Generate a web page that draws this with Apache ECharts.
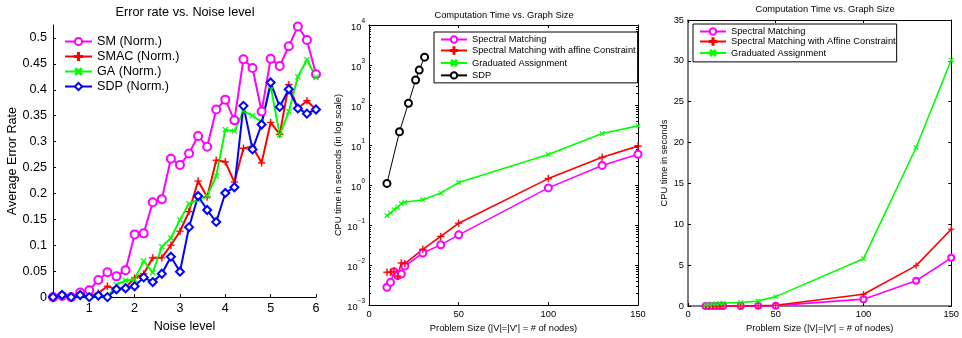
<!DOCTYPE html>
<html><head><meta charset="utf-8">
<script src="https://cdn.jsdelivr.net/npm/echarts@6/dist/echarts.min.js"></script>
<style>html,body{margin:0;padding:0;background:#fff}#c{width:962px;height:338px}</style>
</head><body><div id="c"></div>
<script>
// ---- Panel 1: error rate vs noise level ----
const noiseLevels = [0.2,0.4,0.6,0.8,1.0,1.2,1.4,1.6,1.8,2.0,2.2,2.4,2.6,2.8,3.0,3.2,3.4,3.6,3.8,4.0,4.2,4.4,4.6,4.8,5.0,5.2,5.4,5.6,5.8,6.0];
const smErr   = [0,0.002,0,0.009,0.013,0.033,0.048,0.040,0.052,0.121,0.123,0.183,0.189,0.267,0.255,0.277,0.311,0.290,0.362,0.381,0.341,0.459,0.442,0.358,0.460,0.446,0.484,0.522,0.496,0.430];
const smacErr = [0,0.003,0,0.004,0.001,0.008,0.021,0.015,0.018,0.037,0.045,0.076,0.076,0.100,0.127,0.165,0.224,0.193,0.264,0.261,0.222,0.287,0.290,0.259,0.337,0.314,0.410,0.364,0.379,0.362];
const gaErr   = [0,0.003,0,0.005,0,0.005,0,0.024,0.032,0.034,0.070,0.047,0.097,0.114,0.149,0.180,0.188,0.195,0.234,0.323,0.320,0.359,0.350,0.338,0.407,0.313,0.358,0.425,0.458,0.424];
const sdpErr  = [0,0.004,0,0.004,0,0.003,0,0.015,0.017,0.021,0.038,0.029,0.045,0.078,0.049,0.135,0.195,0.168,0.145,0.201,0.212,0.369,0.285,0.333,0.414,0.367,0.401,0.364,0.354,0.362];
const noiseTicks = [1,2,3,4,5,6];
const errNames = ['SM (Norm.)','SMAC (Norm.)','GA (Norm.)','SDP (Norm.)'];

// ---- Panels 2 & 3: computation time vs graph size ----
const graphSizes = [10,12,14,16,18,20,30,40,50,100,130,150];
const smTime   = [0.0028,0.0037,0.0068,0.0055,0.0060,0.0095,0.020,0.032,0.057,0.85,3.1,5.9];
const smacTime = [0.0066,0.0066,0.0070,0.0053,0.0113,0.0109,0.0247,0.052,0.111,1.45,4.95,9.4];
const gaTime   = [0.173,0.201,0.243,0.279,0.342,0.371,0.43,0.63,1.16,5.8,19.4,30.1];
const sdpSizes = [10,17,22,26,28,31];
const sdpTime  = [1.1,21.5,111,422,748,1574];
const timeNames2 = ['Spectral Matching','Spectral Matching with affine Constraint','Graduated Assignment','SDP'];
const timeNames3 = ['Spectral Matching','Spectral Matching with Affine Constraint','Graduated Assignment'];

const FONT = '"Liberation Sans", Arial, Helvetica, sans-serif';
const zip = (xs, ys) => xs.map((x, i) => [x, ys[i]]);
const PLUS = 'path://M4.2,0H5.8V4.2H10V5.8H5.8V10H4.2V5.8H0V4.2H4.2Z';
const MAG = '#ff00ff', RED = '#ff0000', GRN = '#00ff00', BLU = '#0000ff';

function lineSeries(name, xi, data, color, symbol, size, width, extra) {
  const bw = symbol === PLUS ? 0.3 : 1.5;
  return Object.assign({
    type: 'line', name, xAxisIndex: xi, yAxisIndex: xi, data,
    color, symbol, symbolSize: size, showAllSymbol: true,
    lineStyle: { color, width }, itemStyle: { color, borderColor: color, borderWidth: bw },
    emphasis: { disabled: true }, animation: false, z: 3
  }, extra || {});
}

const axisBase = (fs) => ({
  axisLine: { show: true, onZero: false, lineStyle: { color: '#000', width: 1 } },
  axisTick: { show: true, inside: true, length: 3, lineStyle: { color: '#000' } },
  axisLabel: { color: '#000', fontSize: fs, fontFamily: FONT },
  splitLine: { show: false },
  nameTextStyle: { color: '#000', fontSize: fs, fontFamily: FONT }
});

function mk(base, extra) {
  const o = JSON.parse(JSON.stringify(base));
  for (const k in extra) {
    if (o[k] && typeof o[k] === 'object' && typeof extra[k] === 'object' && !Array.isArray(extra[k])) Object.assign(o[k], extra[k]);
    else o[k] = extra[k];
  }
  return o;
}

const sup = { '-3':'−3','-2':'−2','-1':'−1','0':'0','1':'1','2':'2','3':'3','4':'4' };

const option = {
  animation: false,
  backgroundColor: '#fff',
  grid: [
    { left: 53, top: 25, width: 263, height: 277 },
    { left: 369, top: 25, width: 269, height: 281.7 },
    { left: 688, top: 20, width: 273, height: 287.7 }
  ],
  xAxis: [
    mk(axisBase(12.6), { gridIndex: 0, type: 'value', min: 0.2, max: 6,
      axisTick: { customValues: noiseTicks }, axisLabel: { customValues: noiseTicks, margin: 5 },
      name: 'Noise level', nameLocation: 'middle', nameGap: 17 }),
    mk(axisBase(9.3), { gridIndex: 1, type: 'value', min: 0, max: 150, interval: 50,
      axisLabel: { margin: 5 },
      name: "Problem Size (|V|=|V'| = # of nodes)", nameLocation: 'middle', nameGap: 15 }),
    mk(axisBase(9.3), { gridIndex: 2, type: 'value', min: 0, max: 150, interval: 50,
      axisLine: { lineStyle: { width: 1.5 } }, axisLabel: { margin: 4 },
      name: "Problem Size (|V|=|V'| = # of nodes)", nameLocation: 'middle', nameGap: 15 }),
    mk(axisBase(9.3), { gridIndex: 1, type: 'value', min: 0, max: 150, interval: 50, position: 'top', axisLabel: { show: false } }),
    mk(axisBase(9.3), { gridIndex: 2, type: 'value', min: 0, max: 150, interval: 50, position: 'top', axisLabel: { show: false } })
  ],
  yAxis: [
    mk(axisBase(12.6), { gridIndex: 0, type: 'value', min: 0, max: 0.525, interval: 0.05,
      axisLabel: { margin: 6, showMaxLabel: false, formatter: v => String(+(+v).toFixed(2)) },
      name: 'Average Error Rate', nameLocation: 'middle', nameGap: 32 }),
    mk(axisBase(9.3), { gridIndex: 1, type: 'log', logBase: 10, min: 0.001, max: 10000,
      minorTick: { show: true, splitNumber: 9, length: 2, lineStyle: { color: '#000' } },
      axisLabel: { margin: 4, formatter: v => '{b|10}{s|' + sup[String(Math.round(Math.log10(v)))] + '}',
        rich: { b: { fontSize: 9.3, fontFamily: FONT, color: '#000', verticalAlign: 'bottom', lineHeight: 14 },
                s: { fontSize: 6.5, fontFamily: FONT, color: '#000', verticalAlign: 'top', lineHeight: 14 } } },
      name: 'CPU time in seconds (in log scale)', nameLocation: 'middle', nameGap: 24 }),
    mk(axisBase(9.3), { gridIndex: 2, type: 'value', min: 0, max: 35, interval: 5,
      axisLine: { lineStyle: { width: 1.5 } }, axisLabel: { margin: 4 },
      name: 'CPU time in seconds', nameLocation: 'middle', nameGap: 19 }),
    mk(axisBase(9.3), { gridIndex: 1, type: 'log', logBase: 10, min: 0.001, max: 10000, position: 'right',
      minorTick: { show: true, splitNumber: 9, length: 2, lineStyle: { color: '#000' } },
      axisLabel: { show: false } }),
    mk(axisBase(9.3), { gridIndex: 2, type: 'value', min: 0, max: 35, interval: 5, position: 'right', axisLabel: { show: false } })
  ],
  legend: [
    { data: errNames, orient: 'vertical', left: 64, top: 35, itemWidth: 27, itemHeight: 9, itemGap: 2,
      padding: 0, selectedMode: false, textStyle: { color: '#000', fontSize: 12.6, fontFamily: FONT } },
    { data: timeNames2, orient: 'vertical', left: 434, top: 32, itemWidth: 26, itemHeight: 8, itemGap: 2,
      padding: [3, 2, 3, 6], borderColor: '#000', borderWidth: 1, backgroundColor: '#fff', selectedMode: false,
      textStyle: { color: '#000', fontSize: 9.3, fontFamily: FONT } },
    { data: timeNames3, orient: 'vertical', left: 693, top: 24, itemWidth: 26, itemHeight: 8, itemGap: 1,
      padding: [3, 1, 3, 6], borderColor: '#000', borderWidth: 1, backgroundColor: '#fff', selectedMode: false,
      textStyle: { color: '#000', fontSize: 9.3, fontFamily: FONT } }
  ],
  graphic: [
    { type: 'text', x: 185, y: 12, style: { text: 'Error rate vs. Noise level', font: '12.7px ' + FONT, fill: '#000', align: 'center', verticalAlign: 'middle', textAlign: 'center', textVerticalAlign: 'middle' } },
    { type: 'text', x: 504, y: 15, style: { text: 'Computation Time vs. Graph Size', font: '9.3px ' + FONT, fill: '#000', align: 'center', verticalAlign: 'middle', textAlign: 'center', textVerticalAlign: 'middle' } },
    { type: 'text', x: 825, y: 9, style: { text: 'Computation Time vs. Graph Size', font: '9.3px ' + FONT, fill: '#000', align: 'center', verticalAlign: 'middle', textAlign: 'center', textVerticalAlign: 'middle' } }
  ],
  series: [
    lineSeries(errNames[0], 0, zip(noiseLevels, smErr), MAG, 'emptyCircle', 8, 2),
    lineSeries(errNames[1], 0, zip(noiseLevels, smacErr), RED, PLUS, 7, 2),
    lineSeries(errNames[2], 0, zip(noiseLevels, gaErr), GRN, PLUS, 7, 2, { symbolRotate: 45 }),
    lineSeries(errNames[3], 0, zip(noiseLevels, sdpErr), BLU, 'emptyDiamond', 8, 2),

    lineSeries(timeNames2[0], 1, zip(graphSizes, smTime), MAG, 'emptyCircle', 7, 1.6),
    lineSeries(timeNames2[1], 1, zip(graphSizes, smacTime), RED, PLUS, 7, 1.6),
    lineSeries(timeNames2[2], 1, zip(graphSizes, gaTime), GRN, PLUS, 6, 1.6, { symbolRotate: 45 }),
    lineSeries(timeNames2[3], 1, zip(sdpSizes, sdpTime), '#000', 'emptyCircle', 7, 1, { itemStyle: { color: '#000', borderColor: '#000', borderWidth: 1 } }),

    lineSeries(timeNames3[0], 2, zip(graphSizes, smTime), MAG, 'emptyCircle', 6, 1.6),
    lineSeries(timeNames3[1], 2, zip(graphSizes, smacTime), RED, PLUS, 6, 1.6),
    lineSeries(timeNames3[2], 2, zip(graphSizes, gaTime), GRN, PLUS, 6, 1.6, { symbolRotate: 45 })
  ]
};

const chart = echarts.init(document.getElementById('c'), null, { renderer: 'canvas', width: 962, height: 338 });
chart.setOption(option);
</script></body></html>
